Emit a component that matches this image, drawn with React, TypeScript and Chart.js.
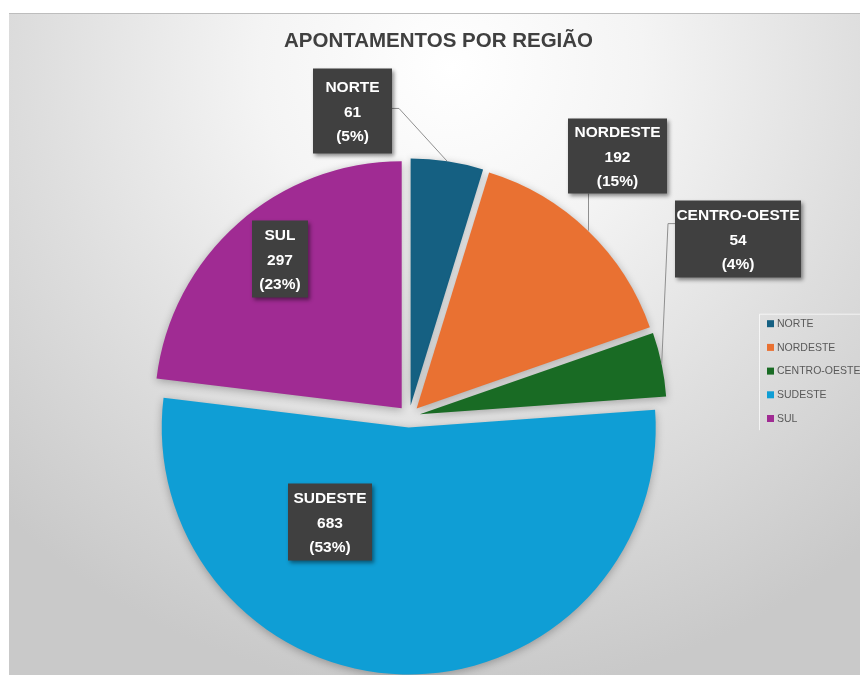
import React, { useEffect, useRef } from "react";
import { Chart, registerables } from "chart.js";

Chart.register(...registerables);

const TITLE = "APONTAMENTOS POR REGIÃO";
const REGIONS = ["NORTE", "NORDESTE", "CENTRO-OESTE", "SUDESTE", "SUL"];
const COUNTS = [61, 192, 54, 683, 297];
const COLORS = ["#156082", "#E97132", "#196B24", "#0F9ED5", "#A02B93"];

// label box placement (relative to pie centre), sizes and leader style
const LABEL_LAYOUT = [
  { dx: -56.5, dy: -305.5, w: 79, h: 85, leader: "right", attach: 0.47 },
  { dx: 208.5, dy: -260.5, w: 99, h: 75, leader: "bottom", attach: 0 },
  { dx: 329, dy: -177.5, w: 126, h: 77, leader: "left", attach: 0.3 },
  { dx: -79, dy: 105.5, w: 84, h: 77, leader: "none", attach: 0 },
  { dx: -129, dy: -157.5, w: 56, h: 77, leader: "none", attach: 0 },
];

const EXPLODE = 11;
const RADIUS = 247;
const FONT = '"Liberation Sans", Arial, sans-serif';

const excelPie = {
  id: "excelPie",
  afterDatasetsUpdate(chart: any) {
    const meta = chart.getDatasetMeta(0);
    if (!meta.data.length) return;
    chart.$pieCenter = { x: meta.data[0].x, y: meta.data[0].y };
    meta.data.forEach((arc: any) => {
      const half = (arc.startAngle + arc.endAngle) / 2;
      arc.x = chart.$pieCenter.x + Math.cos(half) * EXPLODE;
      arc.y = chart.$pieCenter.y + Math.sin(half) * EXPLODE;
    });
  },
  beforeDatasetsDraw(chart: any) {
    const ctx = chart.ctx;
    ctx.save();
    ctx.shadowColor = "rgba(0,0,0,0.28)";
    ctx.shadowBlur = 9;
    ctx.shadowOffsetX = 0;
    ctx.shadowOffsetY = 2;
  },
  afterDatasetsDraw(chart: any) {
    chart.ctx.restore();
  },
  afterDraw(chart: any) {
    const ctx = chart.ctx;
    const meta = chart.getDatasetMeta(0);
    const c = chart.$pieCenter;
    const data: number[] = chart.data.datasets[0].data;
    const labels: string[] = chart.data.labels;
    const colors: string[] = chart.data.datasets[0].backgroundColor;
    const total = data.reduce((a, b) => a + b, 0);

    // title
    ctx.save();
    ctx.fillStyle = "#404040";
    ctx.font = `bold 20.5px ${FONT}`;
    ctx.textAlign = "center";
    ctx.textBaseline = "middle";
    ctx.fillText(TITLE, chart.width / 2 + 4, 27);
    ctx.restore();

    // data labels
    meta.data.forEach((arc: any, i: number) => {
      const L = LABEL_LAYOUT[i];
      const bx = c.x + L.dx - L.w / 2;
      const by = c.y + L.dy - L.h / 2;
      const half = (arc.startAngle + arc.endAngle) / 2;
      const px = arc.x + Math.cos(half) * arc.outerRadius;
      const py = arc.y + Math.sin(half) * arc.outerRadius;
      ctx.save();
      ctx.strokeStyle = "#8f8f8f";
      ctx.lineWidth = 1;
      ctx.beginPath();
      if (L.leader === "right") {
        const sy = by + L.h * L.attach;
        ctx.moveTo(bx + L.w, sy);
        ctx.lineTo(bx + L.w + 7, sy);
        ctx.lineTo(px, py);
      } else if (L.leader === "left") {
        const sy = by + L.h * L.attach;
        ctx.moveTo(bx, sy);
        ctx.lineTo(bx - 7, sy);
        ctx.lineTo(px, py);
      } else if (L.leader === "bottom") {
        ctx.moveTo(Math.round(px) + 0.5, by + L.h);
        ctx.lineTo(Math.round(px) + 0.5, py);
      }
      if (L.leader !== "none") ctx.stroke();
      ctx.restore();

      ctx.save();
      ctx.shadowColor = "rgba(0,0,0,0.45)";
      ctx.shadowBlur = 4;
      ctx.shadowOffsetX = 2;
      ctx.shadowOffsetY = 2;
      ctx.fillStyle = "#404040";
      ctx.fillRect(bx, by, L.w, L.h);
      ctx.restore();

      ctx.save();
      ctx.fillStyle = "#ffffff";
      ctx.font = `bold 15.5px ${FONT}`;
      ctx.textAlign = "center";
      ctx.textBaseline = "middle";
      const lines = [labels[i], String(data[i]), `(${Math.round((data[i] / total) * 100)}%)`];
      const mx = bx + L.w / 2;
      const my = by + L.h / 2 + 1.5;
      lines.forEach((t, k) => ctx.fillText(t, mx, my + (k - 1) * 24.5));
      ctx.restore();
    });

    // legend
    ctx.save();
    const lx = chart.width - 93;
    const ly = 309.7;
    ctx.strokeStyle = "rgba(255,255,255,0.7)";
    ctx.lineWidth = 1;
    ctx.beginPath();
    ctx.moveTo(lx - 7.5, ly - 9.5 + 116);
    ctx.lineTo(lx - 7.5, ly - 9.5);
    ctx.lineTo(chart.width, ly - 9.5);
    ctx.stroke();
    ctx.font = `10.5px ${FONT}`;
    ctx.textBaseline = "middle";
    ctx.textAlign = "left";
    labels.forEach((t, i) => {
      const y = ly + i * 23.7;
      ctx.fillStyle = colors[i];
      ctx.fillRect(lx, y - 3.5, 7, 7);
      ctx.fillStyle = "#595959";
      ctx.fillText(t, lx + 10, y + 0.5);
    });
    ctx.restore();
  },
};

export default function App() {
  const ref = useRef<HTMLCanvasElement>(null);
  useEffect(() => {
    if (!ref.current) return;
    const chart = new Chart(ref.current, {
      type: "pie",
      data: {
        labels: REGIONS,
        datasets: [
          {
            data: COUNTS,
            backgroundColor: COLORS,
            borderWidth: 0,
            radius: RADIUS,
          } as any,
        ],
      },
      options: {
        animation: false,
        responsive: true,
        maintainAspectRatio: false,
        events: [],
        layout: { padding: { left: 0, right: 51, top: 144, bottom: 0 } },
        plugins: {
          legend: { display: false },
          title: { display: false },
          tooltip: { enabled: false },
        },
      },
      plugins: [excelPie],
    });
    return () => chart.destroy();
  }, []);

  return (
    <div
      style={{
        position: "absolute",
        left: 9,
        top: 13,
        width: 851,
        height: 662,
        boxSizing: "border-box",
        borderTop: "1px solid #bdbdbd",
        background:
          "radial-gradient(ellipse 75% 95% at 52% 8%, #ffffff 0%, #f4f4f4 30%, #dedede 65%, #c9c9c9 100%)",
        overflow: "hidden",
      }}
    >
      <canvas ref={ref} />
    </div>
  );
}
